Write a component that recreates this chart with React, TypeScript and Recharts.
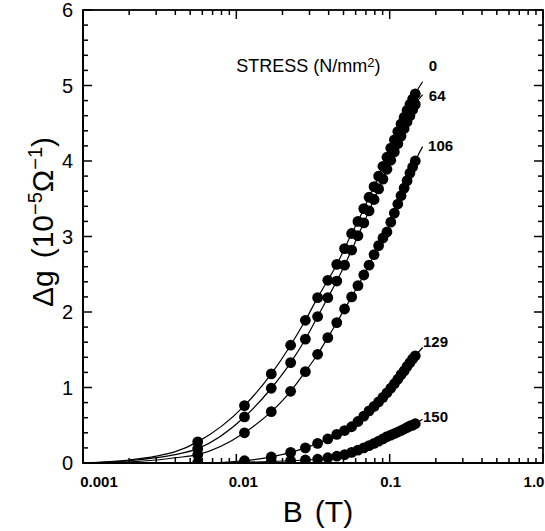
import React from 'react'
import { ComposedChart, Line, Scatter, XAxis, YAxis, ReferenceDot } from 'recharts'

// field values of the measured points (T)
const fieldB = [
  0.0056, 0.0113, 0.0169, 0.0226, 0.0282, 0.0339, 0.0395, 0.0452, 0.0508, 0.0565,
  0.0621, 0.0678, 0.0734, 0.0791, 0.0847, 0.0904, 0.096, 0.1017, 0.1073, 0.113,
  0.1186, 0.1243, 0.1299, 0.1356, 0.1412, 0.1469,
]

// delta g (1e-5 / ohm) for each stress (N/mm2)
const dg0 = [
  0.28, 0.76, 1.18, 1.56, 1.89, 2.19, 2.42, 2.63, 2.84, 3.04,
  3.2, 3.37, 3.52, 3.66, 3.8, 3.93, 4.05, 4.17, 4.28, 4.39,
  4.49, 4.58, 4.67, 4.75, 4.82, 4.89,
]
const dg64 = [
  0.19, 0.61, 0.99, 1.33, 1.64, 1.94, 2.19, 2.41, 2.62, 2.82,
  3.01, 3.18, 3.34, 3.49, 3.63, 3.76, 3.89, 4.01, 4.12, 4.23,
  4.33, 4.43, 4.52, 4.6, 4.68, 4.75,
]
const dg106 = [
  0.11, 0.4, 0.68, 0.95, 1.21, 1.44, 1.66, 1.86, 2.04, 2.2,
  2.35, 2.49, 2.62, 2.76, 2.88, 2.98, 3.06, 3.19, 3.31, 3.43,
  3.54, 3.64, 3.74, 3.84, 3.92, 4.0,
]
const dg129 = [
  0.0, 0.03, 0.08, 0.14, 0.2, 0.26, 0.32, 0.38, 0.43, 0.48,
  0.55, 0.62, 0.69, 0.75, 0.81, 0.87, 0.93, 0.99, 1.05, 1.11,
  1.17, 1.22, 1.28, 1.33, 1.38, 1.42,
]
const dg150 = [
  0.0, 0.01, 0.02, 0.03, 0.04, 0.05, 0.07, 0.09, 0.11, 0.14,
  0.17, 0.2, 0.23, 0.26, 0.29, 0.32, 0.35, 0.37, 0.39, 0.41,
  0.43, 0.45, 0.47, 0.49, 0.5, 0.52,
]

// fitted curves run below the first point and a little past the last one
const headB = [0.001, 0.002, 0.003, 0.004]
const tailB = 0.164
const head0 = [0, 0.04, 0.09, 0.15]
const head64 = [0, 0.03, 0.07, 0.11]
const head106 = [0, 0.015, 0.04, 0.07]
const head129 = [0, 0, 0, 0]
const head150 = [0, 0, 0, 0]
const tails = [5.05, 4.88, 4.19, 1.53, 0.58]

const stressNames = ['0', '64', '106', '129', '150']
const labelB = [0.18, 0.18, 0.178, 0.165, 0.165]
const labelV = [5.19, 4.79, 4.13, 1.54, 0.54]

const xMajor = [0.001, 0.01, 0.1, 1]
const xMajorLabels = ['0.001', '0.01', '0.1', '1.0']
const xLabelShift = [16, 7, 1, -9]
const yMajor = [0, 1, 2, 3, 4, 5, 6]

const xTicks: number[] = []
;[0.001, 0.01, 0.1].forEach((d) => {
  for (let k = 1; k <= 9; k++) xTicks.push(+(d * k).toPrecision(3))
})
xTicks.push(1)
const yTicks: number[] = []
for (let i = 0; i <= 30; i++) yTicks.push(+(i * 0.2).toFixed(1))

const heads = [head0, head64, head106, head129, head150]
const points = [dg0, dg64, dg106, dg129, dg150].map((vals) =>
  vals.map((v, i) => ({ b: fieldB[i], v })),
)
const fits = points.map((pts, s) => [
  ...headB.map((b, i) => ({ b, v: heads[s][i] })),
  ...pts,
  { b: tailB, v: tails[s] },
])

const W = 545
const H = 531
const M = { top: 10, right: 2, bottom: 28, left: 23 }
const X_AXIS_H = 40
const Y_AXIS_W = 60
const PLOT_W = W - M.left - M.right - Y_AXIS_W
const PLOT_H = H - M.top - M.bottom - X_AXIS_H

const FONT = '"Liberation Sans", Arial, sans-serif'
const majX = (v: number) => xMajor.findIndex((m) => Math.abs(m - v) / m < 1e-6)
const majY = (v: number) => yMajor.indexOf(v)

// bottom tick also draws its twin on the top edge of the frame
const BottomTick = (p: any) => {
  const i = majX(p.payload.value)
  const len = i >= 0 ? 9 : 5
  const top = p.y - PLOT_H
  return (
    <g>
      <line x1={p.x} x2={p.x} y1={p.y} y2={p.y - len} stroke="#000" strokeWidth={1.5} />
      <line x1={p.x} x2={p.x} y1={top} y2={top + len} stroke="#000" strokeWidth={1.5} />
      {i >= 0 && (
        <text x={p.x + xLabelShift[i]} y={p.y + 24} textAnchor="middle" fontFamily={FONT} fontWeight="bold" fontSize={15} fill="#000">
          {xMajorLabels[i]}
        </text>
      )}
    </g>
  )
}

// left tick also draws its twin on the right edge
const LeftTick = (p: any) => {
  const i = majY(p.payload.value)
  const len = i >= 0 ? 9 : 5
  const right = p.x + PLOT_W
  return (
    <g>
      <line x1={p.x} x2={p.x + len} y1={p.y} y2={p.y} stroke="#000" strokeWidth={1.5} />
      <line x1={right} x2={right - len} y1={p.y} y2={p.y} stroke="#000" strokeWidth={1.5} />
      {i >= 0 && (
        <text x={p.x - 10} y={p.y + 7} textAnchor="end" fontFamily={FONT} fontSize={20} fill="#000">
          {yMajor[i]}
        </text>
      )}
    </g>
  )
}

const Dot = (p: any) => <circle cx={p.cx} cy={p.cy} r={5.4} fill="#000" />

const axisLine = { stroke: '#000', strokeWidth: 1.8 }

export default function App() {
  return (
    <div style={{ position: 'absolute', left: 0, top: 0, background: '#fff' }}>
      <ComposedChart width={W} height={H} margin={M}>
        <rect
          x={M.left + Y_AXIS_W}
          y={M.top}
          width={PLOT_W}
          height={PLOT_H}
          fill="none"
          stroke="#000"
          strokeWidth={1.8}
        />
        <XAxis
          xAxisId="b"
          dataKey="b"
          type="number"
          scale="log"
          domain={[0.001, 1]}
          allowDataOverflow
          ticks={xTicks}
          interval={0}
          height={X_AXIS_H}
          tickSize={0}
          tickMargin={0}
          tickLine={false}
          axisLine={axisLine}
          tick={BottomTick}
        />
        <YAxis
          yAxisId="v"
          dataKey="v"
          type="number"
          domain={[0, 6]}
          allowDataOverflow
          ticks={yTicks}
          interval={0}
          width={Y_AXIS_W}
          tickSize={0}
          tickMargin={0}
          tickLine={false}
          axisLine={axisLine}
          tick={LeftTick}
        />
        {fits.map((d, s) => (
          <Line
            key={'f' + s}
            xAxisId="b"
            yAxisId="v"
            data={d}
            dataKey="v"
            type="monotone"
            stroke="#000"
            strokeWidth={1.2}
            dot={false}
            activeDot={false}
            isAnimationActive={false}
          />
        ))}
        {points.map((d, s) => (
          <Scatter
            key={'p' + s}
            xAxisId="b"
            yAxisId="v"
            data={d}
            dataKey="v"
            shape={Dot}
            isAnimationActive={false}
          />
        ))}
        {stressNames.map((n, s) => (
          <ReferenceDot
            key={'l' + s}
            xAxisId="b"
            yAxisId="v"
            x={labelB[s]}
            y={labelV[s]}
            ifOverflow="visible"
            shape={(p: any) => (
              <text x={p.cx} y={p.cy} fontFamily={FONT} fontWeight="bold" fontSize={15} fill="#000">
                {n}
              </text>
            )}
          />
        ))}
        <ReferenceDot
          xAxisId="b"
          yAxisId="v"
          x={0.01}
          y={5.18}
          ifOverflow="visible"
          shape={(p: any) => (
            <text x={p.cx} y={p.cy} fontFamily={FONT} fontSize={18} fill="#000">
              STRESS (N/mm<tspan fontSize={13} dy={-5}>2</tspan>
              <tspan dy={5}>)</tspan>
            </text>
          )}
        />
        <text x={318} y={522} textAnchor="middle" fontFamily={FONT} fontSize={30} fill="#000">
          B<tspan dx={12}>(T)</tspan>
        </text>
        <text
          x={53}
          y={222}
          transform="rotate(-90 53 222)"
          textAnchor="middle"
          fontFamily={FONT}
          fontSize={30}
          fill="#000"
        >
          Δg<tspan dx={12}>(10</tspan>
          <tspan dy={-11} fontSize={20}>−5</tspan>
          <tspan dy={11}>Ω</tspan>
          <tspan dy={-11} fontSize={20}>−1</tspan>
          <tspan dy={11}>)</tspan>
        </text>
      </ComposedChart>
    </div>
  )
}
